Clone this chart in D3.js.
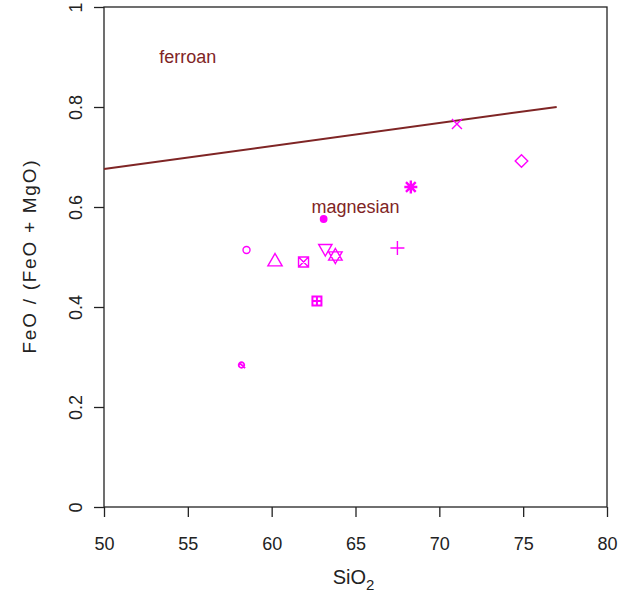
<!DOCTYPE html>
<html>
<head>
<meta charset="utf-8">
<script src="https://cdn.jsdelivr.net/npm/d3@7"></script>
<style>
  body { margin: 0; background: #fff; }
  svg { display: block; font-family: "Liberation Sans", Arial, sans-serif; }
</style>
</head>
<body>
<div id="chart"></div>
<script>
// data
const sio2 = [58.5, 60.2, 61.9, 63.1, 63.2, 63.8, 62.7, 67.5, 68.3, 71.05, 74.9, 58.2];
const feoRatio = [0.514, 0.492, 0.49, 0.576, 0.516, 0.502, 0.412, 0.518, 0.64, 0.766, 0.692, 0.284];
const pointSymbols = ['circle', 'triangle', 'squareX', 'dot', 'triangleDown', 'star',
  'squarePlus', 'plus', 'asterisk', 'x', 'diamond', 'circleX'];

// ferroan / magnesian divide
const boundarySiO2 = [50, 77];
const boundaryRatio = [0.676, 0.8002];

const fieldNames = ['ferroan', 'magnesian'];
const fieldSiO2 = [55, 65];
const fieldRatio = [0.9, 0.6];

const xTicks = [50, 55, 60, 65, 70, 75, 80];
const yTicks = [0, 0.2, 0.4, 0.6, 0.8, 1];

const width = 620, height = 600;
const margin = { top: 7, right: 13, bottom: 93, left: 104 };

const svg = d3.select('#chart').append('svg')
  .attr('width', width)
  .attr('height', height);

const x = d3.scaleLinear().domain([50, 80]).range([margin.left, width - margin.right]);
const y = d3.scaleLinear().domain([0, 1]).range([height - margin.bottom, margin.top]);

const ink = '#222';
const magenta = '#ff00ff';
const brown = '#7f2525';

// frame
svg.append('rect')
  .attr('x', x(50)).attr('y', y(1))
  .attr('width', x(80) - x(50)).attr('height', y(0) - y(1))
  .attr('fill', 'none').attr('stroke', ink).attr('stroke-width', 1.3);

// x axis
const xAxis = svg.append('g')
  .attr('transform', `translate(0,${y(0)})`)
  .call(d3.axisBottom(x).tickValues(xTicks).tickSize(10).tickPadding(20).tickFormat(d3.format('d')));
xAxis.select('.domain').remove();
xAxis.selectAll('line').attr('stroke', ink).attr('stroke-width', 1.3);
xAxis.selectAll('text').attr('fill', ink).style('font-size', '18px').attr('dy', '0.72em');

// y axis, labels turned like in R
const yAxis = svg.append('g')
  .attr('transform', `translate(${x(50)},0)`)
  .call(d3.axisLeft(y).tickValues(yTicks).tickSize(10).tickFormat(d => d === 0 || d === 1 ? d3.format('d')(d) : d3.format('.1f')(d)));
yAxis.select('.domain').remove();
yAxis.selectAll('line').attr('stroke', ink).attr('stroke-width', 1.3);
yAxis.selectAll('text')
  .attr('fill', ink)
  .style('font-size', '18px')
  .attr('transform', 'rotate(-90)')
  .attr('x', 0)
  .attr('y', -22)
  .attr('dy', 0)
  .attr('text-anchor', 'middle');

// axis titles
const xTitle = svg.append('text')
  .attr('x', (x(50) + x(80)) / 2 - 2)
  .attr('y', 584)
  .attr('text-anchor', 'middle')
  .attr('fill', ink)
  .style('font-size', '20px');
xTitle.append('tspan').text('SiO');
xTitle.append('tspan').text('2').attr('dy', 6).style('font-size', '15px');

svg.append('text')
  .attr('transform', `translate(36,${(y(0) + y(1)) / 2}) rotate(-90)`)
  .attr('text-anchor', 'middle')
  .attr('fill', ink)
  .style('font-size', '19px')
  .attr('textLength', 193)
  .attr('lengthAdjust', 'spacing')
  .text('FeO / (FeO + MgO)');

// boundary line
svg.append('path')
  .datum(d3.zip(boundarySiO2, boundaryRatio))
  .attr('fill', 'none')
  .attr('stroke', brown)
  .attr('stroke-width', 2)
  .attr('d', d3.line().x(d => x(d[0])).y(d => y(d[1])));

// field labels
svg.selectAll('.field')
  .data(fieldNames)
  .enter()
  .append('text')
  .attr('x', (d, i) => x(fieldSiO2[i]))
  .attr('y', (d, i) => y(fieldRatio[i]))
  .attr('dy', '0.35em')
  .attr('text-anchor', 'middle')
  .attr('fill', brown)
  .style('font-size', '18px')
  .text(d => d);

// marker shapes, R pch style
const shapes = {
  circle: r => `M${r},0A${r},${r} 0 1,1 ${-r},0A${r},${r} 0 1,1 ${r},0Z`,
  dot: r => `M${r},0A${r},${r} 0 1,1 ${-r},0A${r},${r} 0 1,1 ${r},0Z`,
  triangle: r => `M0,${-r}L${r * 0.95},${r * 0.65}L${-r * 0.95},${r * 0.65}Z`,
  triangleDown: r => `M0,${r}L${r * 0.95},${-r * 0.65}L${-r * 0.95},${-r * 0.65}Z`,
  squareX: r => `M${-r},${-r}H${r}V${r}H${-r}ZM${-r},${-r}L${r},${r}M${r},${-r}L${-r},${r}`,
  squarePlus: r => `M${-r},${-r}H${r}V${r}H${-r}ZM0,${-r}V${r}M${-r},0H${r}`,
  star: r => `M0,${-r}L${r * 0.9},${r * 0.55}L${-r * 0.9},${r * 0.55}ZM0,${r}L${r * 0.9},${-r * 0.55}L${-r * 0.9},${-r * 0.55}Z`,
  plus: r => `M0,${-r}V${r}M${-r},0H${r}`,
  x: r => `M${-r},${-r}L${r},${r}M${r},${-r}L${-r},${r}`,
  asterisk: r => `M0,${-r}V${r}M${-r},0H${r}M${-r * 0.75},${-r * 0.75}L${r * 0.75},${r * 0.75}M${r * 0.75},${-r * 0.75}L${-r * 0.75},${r * 0.75}`,
  diamond: r => `M0,${-r}L${r},0L0,${r}L${-r},0Z`,
  circleX: r => `M${r},0A${r},${r} 0 1,1 ${-r},0A${r},${r} 0 1,1 ${r},0ZM${-r * 0.8},${-r * 0.8}L${r * 1.3},${r * 1.1}`
};
const shapeSize = {
  circle: 3.5, dot: 3.2, triangle: 7.5, triangleDown: 7, squareX: 5, squarePlus: 4.5,
  star: 7.5, plus: 7, x: 5, asterisk: 6.5, diamond: 6.3, circleX: 2.8
};
const shapeStroke = { asterisk: 2.4, squarePlus: 2, circleX: 1.8 };

svg.append('g')
  .selectAll('path')
  .data(sio2)
  .enter()
  .append('path')
  .attr('transform', (d, i) => `translate(${x(d)},${y(feoRatio[i])})`)
  .attr('d', (d, i) => shapes[pointSymbols[i]](shapeSize[pointSymbols[i]]))
  .attr('fill', (d, i) => pointSymbols[i] === 'dot' ? magenta : 'none')
  .attr('stroke', magenta)
  .attr('stroke-width', (d, i) => shapeStroke[pointSymbols[i]] || 1.4);
</script>
</body>
</html>
